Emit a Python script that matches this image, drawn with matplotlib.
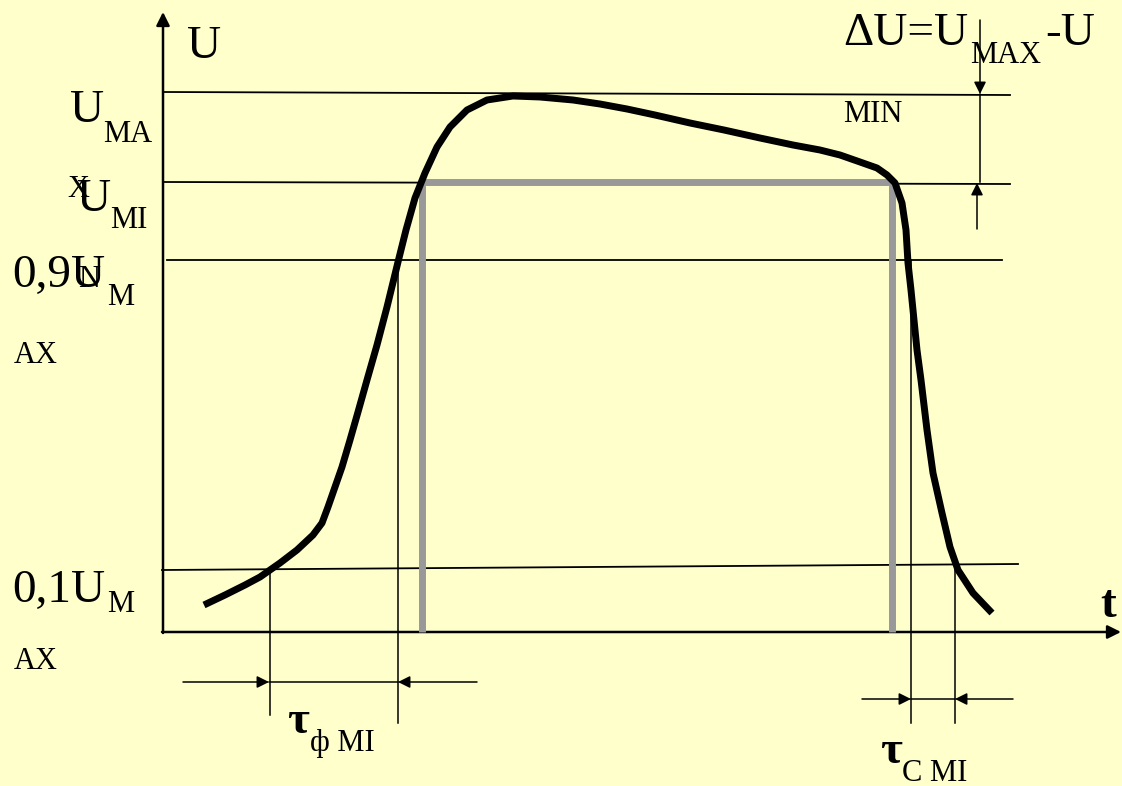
import matplotlib.pyplot as plt

# pulse shape (canvas pixels, y grows downwards)
pulse_t = [204, 225, 245, 260, 280, 297, 313, 322, 328, 335, 342, 350, 358, 367,
           377, 387, 398, 406, 415, 425, 437, 450, 467, 487, 513, 540, 573, 600,
           627, 655, 690, 724, 760, 793, 820, 840, 860, 877, 887, 895, 902, 906,
           908, 911, 914, 917, 921, 924, 927, 933, 942, 950, 958, 973, 992]
pulse_u = [605, 595, 585, 577, 563, 550, 535, 523, 507, 487, 467, 440, 412, 380,
           345, 307, 262, 230, 198, 173, 147, 127, 110, 100, 96, 97, 100, 104,
           109, 115, 123, 130, 138, 145, 150, 155, 162, 168, 175, 183, 203, 230,
           263, 290, 320, 350, 380, 405, 430, 473, 513, 547, 570, 593, 613]

# level lines: (x start, x end, y start, y end)
levels = {
    'umax': (163, 1010, 92, 95),
    'umin': (163, 1010, 182, 184),
    'u09': (167, 1002, 260, 260),
    'u01': (162, 1018, 570, 564),
}

# ideal rectangular pulse
rect_t = [422, 422, 892, 892]
rect_u = [632, 182, 182, 632]

# time marks
rise_marks = [(270, 570, 715), (398, 260, 723)]
fall_marks = [(911, 260, 723), (955, 565, 723)]

fig = plt.figure(figsize=(11.22, 7.86), dpi=100, facecolor='#FFFFCC')
ax = fig.add_axes([0, 0, 1, 1])
ax.set_facecolor('#FFFFCC')
ax.set_xlim(0, 1122)
ax.set_ylim(786, 0)
ax.axis('off')

ap = dict(arrowstyle='-|>', color='black', lw=1.8, mutation_scale=20,
          shrinkA=0, shrinkB=0)
# axes
ax.annotate('', xy=(163, 12), xytext=(163, 633), arrowprops=ap)
ax.annotate('', xy=(1121, 632), xytext=(162, 632), arrowprops=ap)

for key, (x0, x1, y0, y1) in levels.items():
    ax.plot([x0, x1], [y0, y1], color='black', lw=1.3)

for x, y0, y1 in rise_marks + fall_marks:
    ax.plot([x, x], [y0, y1], color='black', lw=1.1)

ax.plot(rect_t, rect_u, color='#999999', lw=5, solid_joinstyle='miter',
        solid_capstyle='butt', zorder=3)
ax.plot(pulse_t, pulse_u, color='black', lw=5, solid_joinstyle='round',
        solid_capstyle='butt', zorder=4)

# dimension arrows
da = dict(arrowstyle='-|>', color='black', lw=1.1, mutation_scale=18,
          shrinkA=0, shrinkB=0)
ax.annotate('', xy=(269, 682), xytext=(183, 682), arrowprops=da)
ax.plot([269, 398], [682, 682], color='black', lw=1.1)
ax.annotate('', xy=(398, 682), xytext=(477, 682), arrowprops=da)

ax.annotate('', xy=(911, 699), xytext=(862, 699), arrowprops=da)
ax.plot([911, 955], [699, 699], color='black', lw=1.1)
ax.annotate('', xy=(955, 699), xytext=(1013, 699), arrowprops=da)

ax.annotate('', xy=(980, 94), xytext=(980, 20), arrowprops=da)
ax.plot([980, 980], [94, 182], color='black', lw=1.1)
ax.annotate('', xy=(977, 183), xytext=(977, 229), arrowprops=da)

serif = ['Liberation Serif', 'DejaVu Serif']
big = 34
small = 22


def txt(x, y, s, size, **kw):
    ax.text(x, y, s, fontsize=size, family=serif, ha='left', va='baseline',
            zorder=5, **kw)


txt(187, 58, 'U', big)
txt(70, 122, 'U', big)
txt(103, 142, 'MA', small)
txt(67, 197, 'X', small)
txt(77, 211, 'U', big)
txt(110, 228, 'MI', small)
txt(12, 287, '0,9U', big)
txt(78, 287, 'N', small)
txt(107, 305, 'M', small)
txt(14, 363, 'AX', small)
txt(12, 602, '0,1U', big)
txt(107, 612, 'M', small)
txt(14, 669, 'AX', small)
txt(843, 45, 'ΔU=U', big)
txt(970, 63, 'MAX', small)
txt(1045, 45, '-U', big)
txt(843, 122, 'MIN', small)
txt(287, 733, 'τ', big, weight='bold')
txt(310, 751, 'ф MI', small)
txt(880, 763, 'τ', big, weight='bold')
txt(902, 781, 'C MI', small)
txt(1100, 617, 't', big, weight='bold')

fig.savefig('out.png', dpi=100, facecolor='#FFFFCC')
